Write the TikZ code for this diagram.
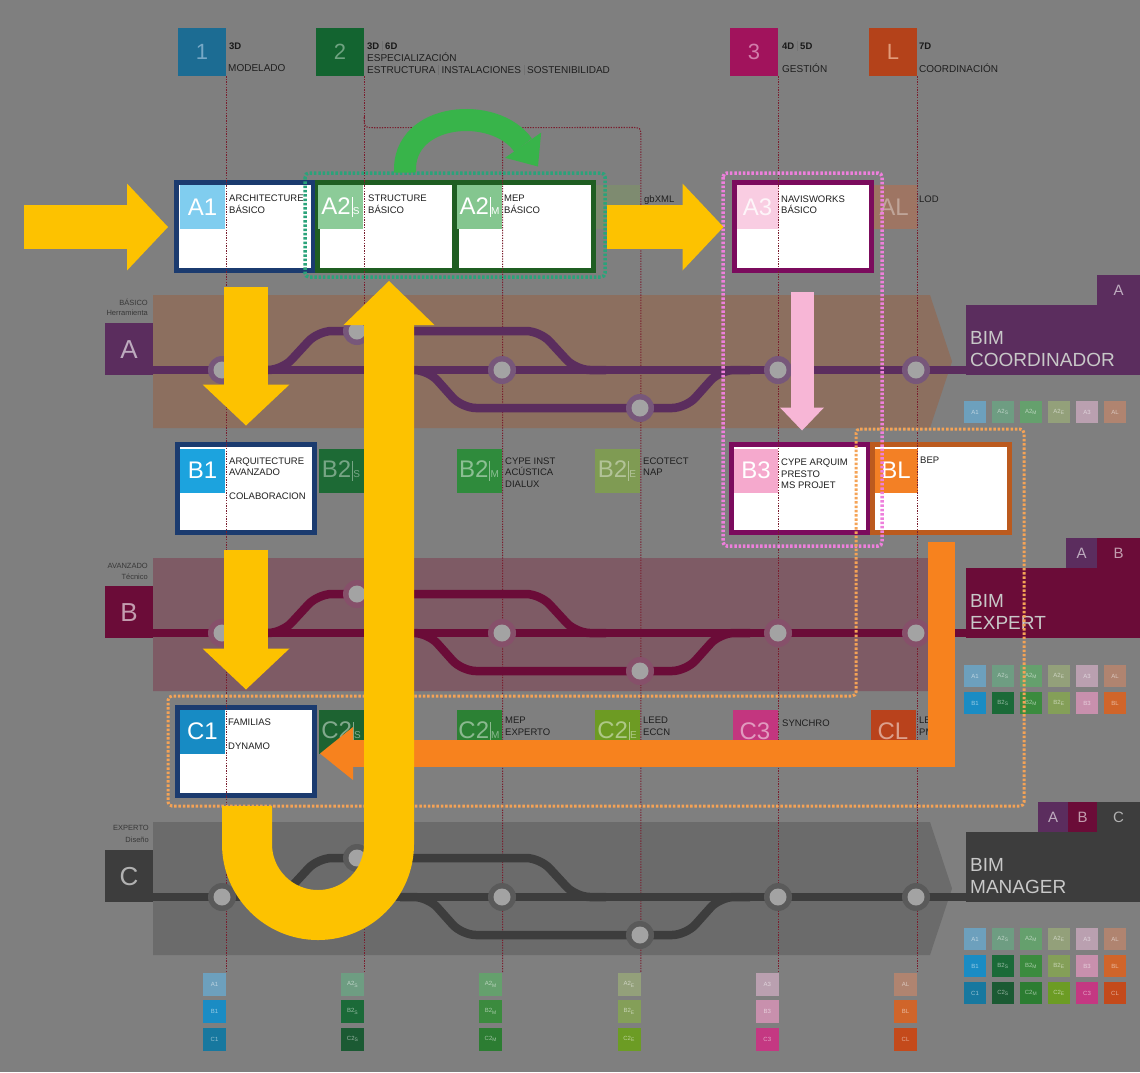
\documentclass[tikz,border=0pt]{standalone}
\usepackage{fontspec}
\setmainfont{Liberation Sans}
\usetikzlibrary{arrows.meta,calc}

\definecolor{bgc}{HTML}{7F7F7F}
\definecolor{vl}{HTML}{7A1E2E}
\definecolor{yel}{HTML}{FDC200}
\definecolor{orng}{HTML}{F7821E}
\definecolor{pinkA}{HTML}{F7B6D6}
\definecolor{grnA}{HTML}{38B44A}
\definecolor{dotG}{HTML}{2AA37A}
\definecolor{dotP}{HTML}{EE7FDC}
\definecolor{dotO}{HTML}{F5A356}
\definecolor{navy}{HTML}{1B3B6F}
\definecolor{dgreen}{HTML}{1F5E22}
\definecolor{dmag}{HTML}{7B0B5D}
\definecolor{bro}{HTML}{BB5A1E}
\definecolor{h1c}{HTML}{1C6C93}
\definecolor{h2c}{HTML}{136430}
\definecolor{h3c}{HTML}{A1135C}
\definecolor{hLc}{HTML}{B4421A}
\definecolor{h1t}{HTML}{76A8C6}
\definecolor{h2t}{HTML}{6FA381}
\definecolor{h3t}{HTML}{D27DAA}
\definecolor{hLt}{HTML}{E29C7A}
\definecolor{bandA}{HTML}{8C6F5F}
\definecolor{bandB}{HTML}{7E5B65}
\definecolor{bandC}{HTML}{6B6B6B}
\definecolor{trA}{HTML}{5B2D5E}
\definecolor{trB}{HTML}{6B0C38}
\definecolor{trC}{HTML}{3D3D3D}
\definecolor{rgA}{HTML}{77577A}
\definecolor{rgB}{HTML}{86506A}
\definecolor{rgC}{HTML}{5A5A5A}
\definecolor{stn}{HTML}{A3A3A3}
\definecolor{bimt}{HTML}{C8C8C8}
% cells
\definecolor{kA1}{HTML}{80CDEF}
\definecolor{kA2S}{HTML}{8CCB98}
\definecolor{kA2M}{HTML}{84C68F}
\definecolor{kA2E}{HTML}{7E8B70}
\definecolor{kA3}{HTML}{F9CDE2}
\definecolor{kAL}{HTML}{9E7563}
\definecolor{kB1}{HTML}{1CA3DE}
\definecolor{kB2S}{HTML}{1D6A35}
\definecolor{kB2M}{HTML}{2F8B3C}
\definecolor{kB2E}{HTML}{7F9B53}
\definecolor{kB3}{HTML}{F5A9CD}
\definecolor{kBL}{HTML}{F38025}
\definecolor{kC1}{HTML}{178BC4}
\definecolor{kC2S}{HTML}{1D6331}
\definecolor{kC2M}{HTML}{2C8134}
\definecolor{kC2E}{HTML}{6D9B23}
\definecolor{kC3}{HTML}{C3367F}
\definecolor{kCL}{HTML}{B9421C}
% legend squares
\definecolor{lA1}{HTML}{6DA0BD}
\definecolor{lA2S}{HTML}{6E9D82}
\definecolor{lA2M}{HTML}{65A06D}
\definecolor{lA2E}{HTML}{93A07A}
\definecolor{lA3}{HTML}{BAA0B0}
\definecolor{lAL}{HTML}{B08470}
\definecolor{lB1}{HTML}{1A8CC4}
\definecolor{lB2S}{HTML}{1B6A38}
\definecolor{lB2M}{HTML}{3B8B3E}
\definecolor{lB2E}{HTML}{849F58}
\definecolor{lB3}{HTML}{C890AD}
\definecolor{lBL}{HTML}{D0652A}
\definecolor{lC1}{HTML}{17789F}
\definecolor{lC2S}{HTML}{1B5A33}
\definecolor{lC2M}{HTML}{2C7D32}
\definecolor{lC2E}{HTML}{6C9C24}
\definecolor{lC3}{HTML}{C43882}
\definecolor{lCL}{HTML}{C44A1B}

\newcommand\mysub[2]{#1\hspace{0.8pt}\vrule width .5pt height 17pt depth 3pt\hspace{0.8pt}{\fontsize{10}{10}\selectfont #2}}
\newcommand\mybar{\textcolor{black!55}{\vrule width .6pt height 8pt depth 1.5pt}}
\def\lgArow{lA1/A1,lA2S/A2\textsubscript{S},lA2M/A2\textsubscript{M},lA2E/A2\textsubscript{E},lA3/A3,lAL/AL}
\def\lgBrow{lB1/B1,lB2S/B2\textsubscript{S},lB2M/B2\textsubscript{M},lB2E/B2\textsubscript{E},lB3/B3,lBL/BL}
\def\lgCrow{lC1/C1,lC2S/C2\textsubscript{S},lC2M/C2\textsubscript{M},lC2E/C2\textsubscript{E},lC3/C3,lCL/CL}

\tikzset{
 lcell/.style={fill=#1, minimum width=45pt, minimum height=44pt, inner sep=0pt, font=\fontsize{24}{24}\selectfont, text=white},
 wbox/.style={draw=#1, line width=5pt, fill=white, minimum width=137pt, minimum height=88pt, inner sep=0pt},
 hbox/.style={fill=#1, minimum width=48pt, minimum height=48pt, inner sep=0pt, font=\fontsize{22}{22}\selectfont},
 boxtxt/.style={anchor=north west, inner sep=0pt, align=left, font=\fontsize{9.5}{11.5}\selectfont, text=black!88},
 hdb/.style={anchor=base west, inner sep=0pt, font=\bfseries\fontsize{9.5}{11}\selectfont, text=black!90},
 hdt/.style={anchor=base west, inner sep=0pt, font=\fontsize{10}{11}\selectfont, text=black!88},
 bandlbl/.style={anchor=base east, inner sep=0pt, font=\fontsize{7.5}{9}\selectfont, text=black!78},
 bimtxt/.style={anchor=west, inner sep=0pt, font=\fontsize{19}{19}\selectfont, text=bimt},
 tabtxt/.style={inner sep=0pt, font=\fontsize{26}{26}\selectfont, text=white, text opacity=.6},
 ttab/.style={fill=#1, minimum height=30pt, inner sep=0pt, font=\fontsize{15}{15}\selectfont, text=white, text opacity=.6},
 lg/.style={fill=#1, minimum width=22pt, minimum height=22pt, inner sep=0pt, font=\fontsize{6}{6}\selectfont, text=white, text opacity=.55},
 lgb/.style={lg=#1, minimum width=23pt, minimum height=23pt},
 vline/.style={draw=vl, line width=1.1pt, dash pattern=on 1.3pt off 1.3pt},
 dotrect/.style={draw=#1, line width=3.5pt, dash pattern=on 2.5pt off 1.8pt, rounded corners=4pt},
 yarrow/.style={draw=yel, line width=44pt, -{Triangle[length=41pt,width=87pt,line width=0pt]}},
}

\begin{document}
\begin{tikzpicture}[x=1pt,y=-1pt]
\useasboundingbox (0,0) rectangle (1140,1072);
\fill[bgc] (0,0) rectangle (1140,1072);

% ---------- header ----------
\node[hbox=h1c, text=h1t] (h1) at (202,52) {1};
\node[hbox=h2c, text=h2t] (h2) at (340,52) {2};
\node[hbox=h3c, text=h3t] (h3) at (754,52) {3};
\node[hbox=hLc, text=hLt] (hL) at (893,52) {L};
\node[hdb] (t1a) at (229,49) {3D};
\node[hdt] (t1b) at (228,71) {MODELADO};
\node[hdb] (t2a) at (367,49) {3D \mybar{} 6D};
\node[hdt] (t2b) at (367,61.5) {ESPECIALIZACIÓN};
\node[hdt] (t2c) at (367,73.3) {ESTRUCTURA \mybar{} INSTALACIONES \mybar{} SOSTENIBILIDAD};
\node[hdb] (t3a) at (782,49) {4D \mybar{} 5D};
\node[hdt] (t3b) at (782,72) {GESTIÓN};
\node[hdb] (tLa) at (919,49) {7D};
\node[hdt] (tLb) at (919,72) {COORDINACIÓN};

% ---------- bands ----------
\foreach \ty/\bc/\tc/\bl in {295/bandA/trA/A,558/bandB/trB/B,822/bandC/trC/C}{
  \fill[fill=\bc] (153,\ty) -- (930,\ty) -- (952,\ty+66.5) -- (930,\ty+133) -- (153,\ty+133) -- cycle;
  \fill[fill=\tc] (105,\ty+28) rectangle (153,\ty+80);
  \fill[fill=\tc] (966,\ty+10) rectangle (1140,\ty+80);
  \node[tabtxt] (tab\bl) at (129,\ty+55) {\bl};
}
\node[bimtxt] (bimA1) at (970,338) {BIM};
\node[bimtxt] (bimA2) at (970,360) {COORDINADOR};
\node[bimtxt] (bimB1) at (970,601) {BIM};
\node[bimtxt] (bimB2) at (970,623) {EXPERT};
\node[bimtxt] (bimC1) at (970,865) {BIM};
\node[bimtxt] (bimC2) at (970,887) {MANAGER};
\node[bandlbl] (lbA1) at (148,305) {BÁSICO};
\node[bandlbl] (lbA2) at (148,315.5) {Herramienta};
\node[bandlbl] (lbB1) at (148,568) {AVANZADO};
\node[bandlbl] (lbB2) at (148,579) {Técnico};
\node[bandlbl] (lbC1) at (149,830) {EXPERTO};
\node[bandlbl] (lbC2) at (149,842) {Diseño};
% top tabs
\node[ttab=trA, minimum width=43pt] (ttA1) at (1118.5,290) {A};
\node[ttab=trA, minimum width=31pt] (ttB1) at (1081.5,553) {A};
\node[ttab=trB, minimum width=43pt] (ttB2) at (1118.5,553) {B};
\node[ttab=trA, minimum width=30pt] (ttC1) at (1053,817) {A};
\node[ttab=trB, minimum width=29pt] (ttC2) at (1082.5,817) {B};
\node[ttab=trC, minimum width=43pt] (ttC3) at (1118.5,817) {C};

% ---------- cells outside boxes ----------
\node[lcell=kA2E] (cA2E) at (617.5,207) {};
\node[lcell=kAL, text opacity=.35] (cAL) at (894,207) {AL};
\node[lcell=kB2S, text opacity=.4] (cB2S) at (341,470.5) {\mysub{B2}{S}};
\node[lcell=kB2M, text opacity=.45] (cB2M) at (479,470.5) {\mysub{B2}{M}};
\node[lcell=kB2E, text opacity=.4] (cB2E) at (617,470.5) {\mysub{B2}{E}};
\node[lcell=kC2S, text opacity=.45] (cC2S) at (341,731.5) {\mysub{C2}{S}};
\node[lcell=kC2M, text opacity=.45] (cC2M) at (479,731.5) {\mysub{C2}{M}};
\node[lcell=kC2E, text opacity=.45] (cC2E) at (617,731.5) {\mysub{C2}{E}};
\node[lcell=kC3, text opacity=.5] (cC3) at (755,731.5) {C3};
\node[lcell=kCL, text opacity=.5] (cCL) at (893,731.5) {CL};

% ---------- boxes ----------
\node[wbox=navy] (A1) at (245,226.5) {};
\node[wbox=dgreen] (A2S) at (386,226) {};
\node[wbox=dgreen] (A2M) at (525,226) {};
\node[wbox=dmag] (A3) at (802.5,226.5) {};
\node[wbox=navy] (B1) at (246,488) {};
\node[wbox=dmag] (B3) at (800,488) {};
\node[wbox=bro] (BL) at (941,488) {};
\node[wbox=navy] (C1) at (246,751.5) {};

\node[lcell=kA1] (cA1) at (202.5,207) {A1};
\node[lcell=kA2S] (cA2S) at (340.5,207) {\mysub{A2}{S}};
\node[lcell=kA2M] (cA2M) at (479.5,207) {\mysub{A2}{M}};
\node[lcell=kA3, minimum width=42pt, text opacity=.8] (cA3) at (757.5,207) {A3};
\node[lcell=kB1] (cB1) at (202.5,470.5) {B1};
\node[lcell=kB3, minimum width=44pt] (cB3) at (756,470.5) {B3};
\node[lcell=kBL, minimum width=43pt] (cBL) at (896,470.5) {BL};
\node[lcell=kC1] (cC1) at (202.5,731.5) {C1};

% ---------- texts ----------
\node[boxtxt] (tA1) at (229,195) {ARCHITECTURE\\BÁSICO};
\node[boxtxt] (tA2S) at (368,195) {STRUCTURE\\BÁSICO};
\node[boxtxt] (tA2M) at (504,195) {MEP\\BÁSICO};
\node[boxtxt] (tA2E) at (644,195.5) {gbXML};
\node[boxtxt] (tA3) at (781,195.5) {NAVISWORKS\\BÁSICO};
\node[boxtxt] (tAL) at (919,195.5) {LOD};
\node[boxtxt] (tB1) at (229,457.5) {ARQUITECTURE\\AVANZADO};
\node[boxtxt] (tB1b) at (229,492.5) {COLABORACION};
\node[boxtxt] (tB2M) at (505,457.5) {CYPE INST\\ACÚSTICA\\DIALUX};
\node[boxtxt] (tB2E) at (643,457.5) {ECOTECT\\NAP};
\node[boxtxt] (tB3) at (781,459) {CYPE ARQUIM\\PRESTO\\MS PROJET};
\node[boxtxt] (tBL) at (920,457) {BEP};
\node[boxtxt] (tC1) at (228,719) {FAMILIAS};
\node[boxtxt] (tC1b) at (228,743) {DYNAMO};
\node[boxtxt] (tC2M) at (505,717) {MEP\\EXPERTO};
\node[boxtxt] (tC2E) at (643,717) {LEED\\ECCN};
\node[boxtxt] (tC3) at (782,720) {SYNCHRO};
\node[boxtxt] (tCL) at (919,717) {LEAN\\PM};

% ---------- bottom squares ----------
\foreach \c/\t [count=\j] in \lgArow {\node[lgb=\c] (bA-\j) at ({214.5+138.2*(\j-1)},984.5) {\t};}
\foreach \c/\t [count=\j] in \lgBrow {\node[lgb=\c] (bB-\j) at ({214.5+138.2*(\j-1)},1011.5) {\t};}
\foreach \c/\t [count=\j] in \lgCrow {\node[lgb=\c] (bC-\j) at ({214.5+138.2*(\j-1)},1039) {\t};}

% ---------- vertical dotted lines ----------
\coordinate (br) at (0,127.5);
\draw[vline] (h1.south east) -- (h1.south east |- bA-1.north);
\draw[vline] (h2.south east) -- (h2.south east |- bA-2.north);
\draw[vline] (h3.south east) -- (h3.south east |- bA-5.north);
\draw[vline] (hL.south east) -- (hL.south east |- bA-6.north);
\draw[vline] ($(h2.south east)+(0,41)$) .. controls ($(h2.south east)+(0,51.5)$) .. ($(h2.south east)+(10,51.5)$)
   -- ($(bA-4.north east |- br)+(-10,0)$) .. controls (bA-4.north east |- br) .. ($(bA-4.north east |- br)+(0,10)$)
   -- (bA-4.north east);
\draw[vline] ($(bA-3.north east |- br)+(-12,0)$) .. controls (bA-3.north east |- br) .. ($(bA-3.north east |- br)+(0,12)$) -- (bA-3.north east);

% ---------- tracks ----------
\foreach \ty/\tc/\rc in {295/trA/rgA,558/trB/rgB,822/trC/rgC}{
  \draw[draw=\tc, line width=8.5pt] (152,\ty+75) -- (968,\ty+75);
  \draw[draw=\tc, line width=8.5pt, rounded corners=14pt] (250,\ty+75) -- (282,\ty+75) -- (318,\ty+36) -- (540,\ty+36) -- (576,\ty+75) -- (606,\ty+75);
  \draw[draw=\tc, line width=8.5pt, rounded corners=14pt] (400,\ty+75) -- (428,\ty+75) -- (462,\ty+113) -- (686,\ty+113) -- (720,\ty+75) -- (750,\ty+75);
  \foreach \sx/\sy in {222/75,357/36,502/75,640/113,778/75,916/75}{
    \fill[fill=\rc] (\sx,\ty+\sy) circle (14pt);
    \fill[stn] (\sx,\ty+\sy) circle (8.5pt);
  }
}

% ---------- right legends ----------
\foreach \c/\t [count=\i from 0] in \lgArow {\node[lg=\c] (rA-\i) at (975+28*\i,412) {\t};}
\foreach \c/\t [count=\i from 0] in \lgArow {\node[lg=\c] (rBa-\i) at (975+28*\i,676) {\t};}
\foreach \c/\t [count=\i from 0] in \lgBrow {\node[lg=\c] (rBb-\i) at (975+28*\i,703) {\t};}
\foreach \c/\t [count=\i from 0] in \lgArow {\node[lg=\c] (rCa-\i) at (975+28*\i,939) {\t};}
\foreach \c/\t [count=\i from 0] in \lgBrow {\node[lg=\c] (rCb-\i) at (975+28*\i,966) {\t};}
\foreach \c/\t [count=\i from 0] in \lgCrow {\node[lg=\c] (rCc-\i) at (975+28*\i,993) {\t};}

% ---------- dotted groupings ----------
\draw[dotrect=dotG] (305,173) rectangle (605,277);
\draw[dotrect=dotP] (723,173) rectangle (882,546);
\draw[dotrect=dotO, line width=3pt] (856,429) -- (1024,429) -- (1024,806) -- (168,806) -- (168,696) -- (856,696) -- cycle;

% ---------- arrows ----------
\draw[orng, line width=27pt, line join=miter, -{Triangle[length=33pt,width=53pt,line width=0pt]}]
   ($(BL.south)+(0,7.5)$) |- ($(C1.east)+(3,2)$);
\draw[pinkA, line width=23pt, -{Triangle[length=23pt,width=44pt,line width=0pt]}]
   ($(A3.south)+(-0.5,19)$) -- ($(B3.north)+(2,-11)$);
\coordinate (in0) at (24,227);
\draw[yarrow] (in0) -- ($(A1.west)+(-6,0.5)$);
\draw[yarrow] ($(A2M.east)+(11,1)$) -- ($(A3.west)+(-8,0.5)$);
\draw[yarrow] ($(A1.south)+(1,14)$) -- ($(B1.north)+(0,-16)$);
\draw[yarrow] ($(B1.south)+(0,15)$) -- ($(C1.north)+(0,-15.5)$);
\draw[yel, line width=50pt, -{Triangle[length=44pt,width=91pt,line width=0pt]}]
   ($(C1.south)+(1,8)$) -- (247,844) .. controls (247,883.2) and (278.8,915) .. (318,915)
   .. controls (357.2,915) and (389,883.2) .. (389,844) -- ($(A2S.south)+(3,8.5)$);
\draw[grnA, line width=22pt, -{Triangle[length=26pt,width=44pt,line width=0pt]}]
   ($(A2S.north)+(19,-7)$) .. controls (402,112) and (495,105) .. ($(A2M.north)+(13,-13)$);
\end{tikzpicture}
\end{document}
